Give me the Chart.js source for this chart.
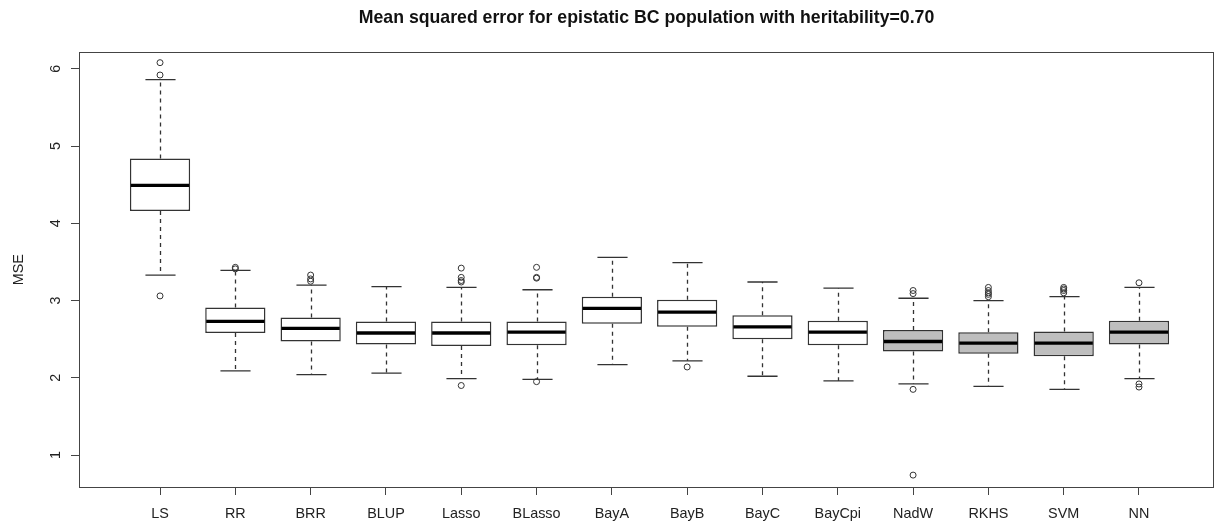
<!DOCTYPE html>
<html>
<head>
<meta charset="utf-8">
<script src="https://cdn.jsdelivr.net/npm/chart.js@4.4.1/dist/chart.umd.min.js"></script>
<style>
  html, body { margin: 0; padding: 0; background: #fff; }
  #wrap { width: 1215px; height: 524px; }
</style>
</head>
<body>
<div id="wrap"><canvas id="mseChart"></canvas></div>
<script>
const chartTitle = 'Mean squared error for epistatic BC population with heritability=0.70';
const methods = ['LS', 'RR', 'BRR', 'BLUP', 'Lasso', 'BLasso', 'BayA', 'BayB', 'BayC', 'BayCpi', 'NadW', 'RKHS', 'SVM', 'NN'];
const shaded = ['NadW', 'RKHS', 'SVM', 'NN'];

// five-number summaries
const lowerWhisker = [3.33, 2.09, 2.04, 2.06, 1.99, 1.98, 2.17, 2.22, 2.02, 1.96, 1.92, 1.89, 1.85, 1.99];
const q1 =           [4.16, 2.58, 2.47, 2.43, 2.41, 2.42, 2.70, 2.66, 2.50, 2.42, 2.34, 2.31, 2.28, 2.43];
const median =       [4.49, 2.73, 2.64, 2.58, 2.58, 2.59, 2.90, 2.85, 2.66, 2.59, 2.47, 2.45, 2.45, 2.59];
const q3 =           [4.84, 2.91, 2.78, 2.73, 2.73, 2.73, 3.05, 3.01, 2.81, 2.74, 2.62, 2.59, 2.60, 2.74];
const upperWhisker = [5.86, 3.39, 3.20, 3.18, 3.17, 3.14, 3.56, 3.49, 3.24, 3.16, 3.03, 3.00, 3.05, 3.17];
const outliers = [
    [6.08, 5.92, 3.06],
    [3.43, 3.41],
    [3.33, 3.28, 3.25],
    [],
    [3.42, 3.30, 3.26, 3.24, 1.90],
    [3.43, 3.30, 3.29, 1.95],
    [],
    [2.14],
    [],
    [],
    [3.13, 3.09, 1.85, 0.74],
    [3.17, 3.13, 3.10, 3.08, 3.05],
    [3.17, 3.15, 3.13, 3.10],
    [3.23, 1.92, 1.88]
];
const yTicks = [1, 2, 3, 4, 5, 6];

const FONT = '"Liberation Sans", Arial, Helvetica, sans-serif';
const LINE = '#333';
Chart.defaults.font.family = FONT;

const boxData = methods.map((m, i) => ({x: i + 1, y: [q1[i], q3[i]]}));
const outlierData = [];
outliers.forEach((list, i) => list.forEach(v => outlierData.push({x: i + 1, y: v})));

// whiskers + staples under the boxes, medians on top
const boxParts = {
    id: 'boxParts',
    beforeDatasetsDraw(chart) {
        const xs = chart.scales.x, ys = chart.scales.y, ctx = chart.ctx;
        const staple = 0.2 * (xs.getPixelForValue(2) - xs.getPixelForValue(1));
        ctx.save();
        ctx.strokeStyle = LINE;
        ctx.lineWidth = 1.3;
        methods.forEach((m, i) => {
            const cx = Math.round(xs.getPixelForValue(i + 1)) + 0.5;
            ctx.setLineDash([4, 4]);
            ctx.beginPath();
            ctx.moveTo(cx, ys.getPixelForValue(q3[i]));
            ctx.lineTo(cx, ys.getPixelForValue(upperWhisker[i]));
            ctx.moveTo(cx, ys.getPixelForValue(q1[i]));
            ctx.lineTo(cx, ys.getPixelForValue(lowerWhisker[i]));
            ctx.stroke();
            ctx.setLineDash([]);
            ctx.beginPath();
            [upperWhisker[i], lowerWhisker[i]].forEach(v => {
                const py = ys.getPixelForValue(v);
                ctx.moveTo(cx - staple, py);
                ctx.lineTo(cx + staple, py);
            });
            ctx.stroke();
        });
        ctx.restore();
    },
    afterDatasetsDraw(chart) {
        const xs = chart.scales.x, ys = chart.scales.y, ctx = chart.ctx;
        const half = 0.4 * (xs.getPixelForValue(2) - xs.getPixelForValue(1)) - 1;
        ctx.save();
        ctx.strokeStyle = '#000';
        ctx.lineWidth = 3.3;
        methods.forEach((m, i) => {
            const cx = xs.getPixelForValue(i + 1);
            const py = ys.getPixelForValue(median[i]);
            ctx.beginPath();
            ctx.moveTo(cx - half, py);
            ctx.lineTo(cx + half, py);
            ctx.stroke();
        });
        ctx.restore();
    },
    afterDraw(chart) {
        const a = chart.chartArea, ctx = chart.ctx, ys = chart.scales.y;
        ctx.save();
        ctx.strokeStyle = '#444';
        ctx.lineWidth = 1;
        ctx.strokeRect(Math.round(a.left) + 0.5, Math.round(a.top) + 0.5,
            Math.round(a.right - a.left) - 1, Math.round(a.bottom - a.top));
        // R style y labels, turned on their side
        ctx.font = '14.4px ' + FONT;
        ctx.fillStyle = '#222';
        ctx.textAlign = 'center';
        ctx.textBaseline = 'alphabetic';
        yTicks.forEach(v => {
            ctx.save();
            ctx.translate(a.left - 19, ys.getPixelForValue(v));
            ctx.rotate(-Math.PI / 2);
            ctx.fillText(String(v), 0, 0);
            ctx.restore();
        });
        ctx.restore();
    }
};

const ctx = document.getElementById('mseChart').getContext('2d');
new Chart(ctx, {
    type: 'bar',
    data: {
        datasets: [
            {
                type: 'bar',
                data: boxData,
                backgroundColor: boxData.map((d, i) => shaded.includes(methods[i]) ? '#bebebe' : '#ffffff'),
                borderColor: LINE,
                borderWidth: 1.5,
                borderSkipped: false,
                barPercentage: 1,
                categoryPercentage: 0.8,
                order: 2
            },
            {
                type: 'scatter',
                data: outlierData,
                pointStyle: 'circle',
                pointRadius: 3,
                pointBorderWidth: 1,
                pointBorderColor: LINE,
                pointBackgroundColor: 'rgba(0,0,0,0)',
                order: 1
            }
        ]
    },
    options: {
        responsive: true,
        maintainAspectRatio: false,
        animation: false,
        devicePixelRatio: 1,
        layout: { autoPadding: false, padding: { left: 0, right: 1, top: 0, bottom: 0 } },
        plugins: {
            legend: { display: false },
            tooltip: { enabled: false },
            title: {
                display: true,
                text: chartTitle,
                fullSize: false,
                color: '#111',
                font: { size: 17.7, weight: 'bold', family: FONT },
                padding: { top: 7, bottom: 24 }
            }
        },
        scales: {
            x: {
                type: 'linear',
                offset: false,
                min: -0.076,
                max: 14.996,
                afterBuildTicks: s => { s.ticks = methods.map((m, i) => ({value: i + 1})); },
                afterFit: s => { s.height = 37; s.paddingLeft = 0; s.paddingRight = 0; },
                ticks: {
                    autoSkip: false,
                    maxRotation: 0,
                    padding: 10,
                    color: '#222',
                    font: { size: 14.4 },
                    callback: (v, i) => methods[i]
                },
                grid: { offset: false, drawOnChartArea: false, drawTicks: true, tickLength: 8, color: '#444' },
                border: { display: false }
            },
            y: {
                type: 'linear',
                min: 0.586,
                max: 6.215,
                afterBuildTicks: s => { s.ticks = yTicks.map(v => ({value: v})); },
                afterFit: s => { s.width = 79; },
                ticks: { display: false },
                grid: { drawOnChartArea: false, drawTicks: true, tickLength: 8, color: '#444' },
                border: { display: false },
                title: {
                    display: true,
                    text: 'MSE',
                    color: '#222',
                    font: { size: 14.4 },
                    padding: { top: 10.5, bottom: 0 }
                }
            }
        }
    },
    plugins: [boxParts]
});
</script>
</body>
</html>
